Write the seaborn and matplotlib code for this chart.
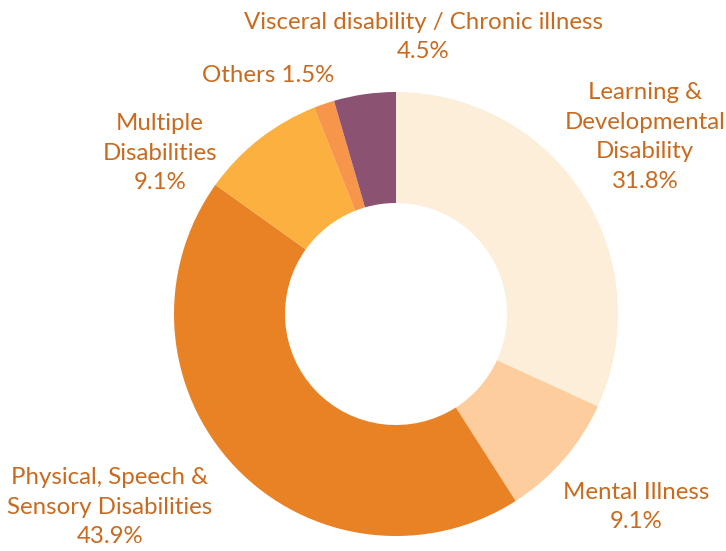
import numpy as np
import seaborn as sns
import matplotlib.pyplot as plt

categories = ["Learning &\nDevelopmental\nDisability", "Mental Illness",
              "Physical, Speech &\nSensory Disabilities", "Multiple\nDisabilities",
              "Others", "Visceral disability / Chronic illness"]
shares = [31.8, 9.1, 43.9, 9.1, 1.5, 4.5]
colors = ["#FDEEDA", "#FDCD9E", "#E98125", "#FBB040", "#F7964A", "#8B5272"]

# label anchor points in pixel space (x, y from top)
label_pos = [(645, 137), (636, 507), (110, 507), (160, 153), (268, 76), (423, 37)]
one_line = [False, False, False, False, True, False]

text_color = "#C96A1E"

sns.set_theme(style="white")
plt.rcParams['font.family'] = ['Lato', 'DejaVu Sans']

W, H = 726, 551
fig = plt.figure(figsize=(W / 100, H / 100), dpi=100)
ax = fig.add_axes([0, 0, 1, 1])

cx, cy, r = 396, H - 314, 222
ax.pie(shares, colors=colors, startangle=90, counterclock=False,
       center=(cx, cy), radius=r, wedgeprops=dict(width=r * 0.5, linewidth=0),
       frame=True)
ax.set_xlim(0, W)
ax.set_ylim(0, H)
ax.set_aspect('equal')
ax.axis('off')

for name, val, (x, y), inline in zip(categories, shares, label_pos, one_line):
    txt = f"{name} {val}%" if inline else f"{name}\n{val}%"
    ax.text(x, H - y, txt, ha='center', va='center', color=text_color,
            fontsize=17.3, linespacing=1.5)

plt.savefig('out.png', dpi=100)
